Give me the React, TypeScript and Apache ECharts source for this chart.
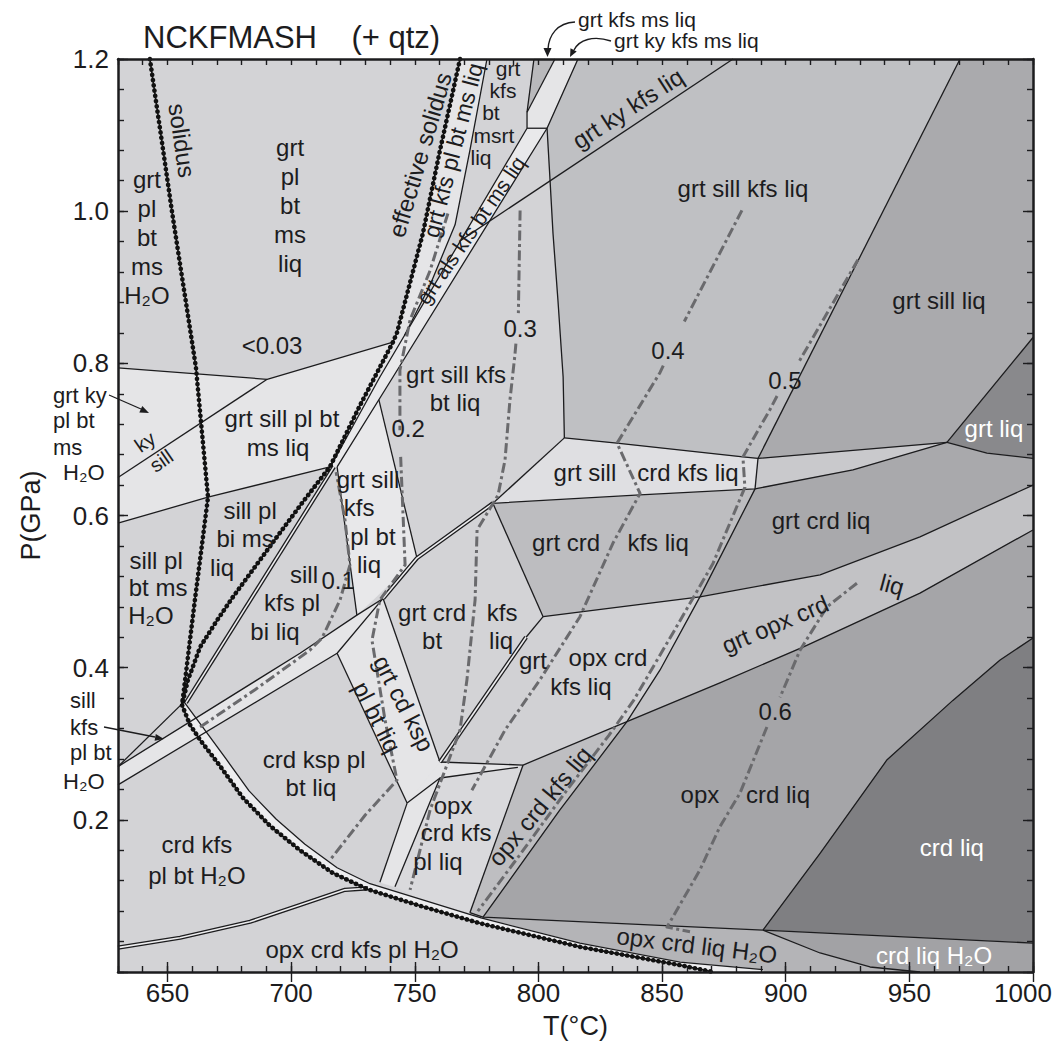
import React, { useEffect, useRef } from "react";
import * as echarts from "echarts";

type Pt = [number, number];

const FONT = '"Liberation Sans", Arial, Helvetica, sans-serif';
const INK = "#1c1c1e";

// ---------- axes ----------
const X_MIN = 630, X_MAX = 1000, Y_MIN = 0, Y_MAX = 1.2;
const X_TICK_LABELS = [650, 700, 750, 800, 850, 900, 950, 1000];
const Y_TICK_LABELS = [0.2, 0.4, 0.6, 0.8, 1.0, 1.2];
const Y_MAJOR = [0, 0.2, 0.4, 0.6, 0.8, 1.0, 1.2];

// ---------- main curves (T °C, P GPa) ----------
const SOLIDUS_UPPER: Pt[] = [[642.9, 1.2], [651.8, 1.0], [661.5, 0.795], [666.4, 0.624], [661.1, 0.489]];
const SOLIDUS_LOWER: Pt[] = [[655.9, 0.351], [659.1, 0.325], [663.2, 0.305], [671.2, 0.271], [680.5, 0.229], [691.5, 0.192], [703.6, 0.16], [716.9, 0.13], [730.7, 0.109], [752.1, 0.087], [776.4, 0.064], [816.8, 0.033], [857.3, 0.009], [870.6, 0]];
const EFF_SOLIDUS: Pt[] = [[768.3, 1.2], [760.2, 1.08], [753.3, 0.971], [742.8, 0.84], [741.2, 0.828], [727.9, 0.745], [715.7, 0.664], [704.8, 0.618], [694.3, 0.572], [676.5, 0.493], [669.6, 0.46], [663.2, 0.427], [658.3, 0.384], [655.9, 0.351]];
const SOLIDUS_BAND_TOP: Pt[] = [[656.7, 0.355], [661.5, 0.334], [673.7, 0.28], [683.0, 0.238], [693.9, 0.201], [705.6, 0.168], [718.6, 0.137], [731.9, 0.116], [752.9, 0.095], [776.8, 0.071], [816.8, 0.038], [857.3, 0.013], [890.8, 0.003]];

// ---------- phase fields ----------
const F_LIGHT_TOP: Pt[] = [[630, 0.794], [690.3, 0.779], [741.2, 0.828], [727.9, 0.745], [715.7, 0.664], [666.4, 0.624], [630, 0.59]];
const F_GKPBML: Pt[] = [[768.3, 1.2], [779.2, 1.2], [772.3, 1.08], [766.3, 0.982], [756.2, 0.903], [745.9, 0.837], [735.9, 0.782], [716.1, 0.665], [715.7, 0.664], [727.9, 0.745], [741.2, 0.828], [742.8, 0.84], [753.3, 0.971], [760.2, 1.08]];
const F_GKML: Pt[] = [[798.2, 1.2], [806.7, 1.2], [795.4, 1.13]];
const F_GKKML: Pt[] = [[806.7, 1.2], [816.0, 1.2], [803.5, 1.109], [795.4, 1.109], [795.4, 1.13]];
const F_ALS: Pt[] = [[795.4, 1.109], [803.5, 1.109], [741.2, 0.782], [718.6, 0.664], [716.1, 0.665], [735.9, 0.782]];
const F_GSKPBL: Pt[] = [[718.6, 0.664], [735.5, 0.752], [750.9, 0.544], [726.6, 0.469]];
const F_SILLCRD: Pt[] = [[630, 0.27], [703.6, 0.419], [726.6, 0.469], [737.2, 0.491], [718.6, 0.419], [630, 0.246]];
const F_GCKSP: Pt[] = [[718.6, 0.419], [737.2, 0.491], [760.2, 0.276], [746.9, 0.222]];
const F_OPXBAND: Pt[] = [[746.9, 0.222], [760.2, 0.276], [793.8, 0.272], [791.7, 0.269], [760.2, 0.255], [742.0, 0.112], [735.9, 0.118]];
const F_OCKPL: Pt[] = [[760.2, 0.255], [791.7, 0.269], [793.8, 0.272], [772.3, 0.078], [752.9, 0.095], [742.0, 0.112]];
const F_OCKL: Pt[] = [[793.8, 0.272], [835.8, 0.329], [808.7, 0.213], [777.6, 0.072], [772.3, 0.078]];
const F_GOCKL: Pt[] = [[801.9, 0.467], [865.3, 0.493], [849.2, 0.397], [835.8, 0.329], [793.8, 0.272], [760.2, 0.276]];
const F_GCKL: Pt[] = [[781.6, 0.616], [841.1, 0.627], [887.6, 0.635], [865.3, 0.493], [801.9, 0.467]];
const F_GSCKL: Pt[] = [[810.5, 0.702], [831.8, 0.695], [882.7, 0.677], [888.8, 0.675], [887.6, 0.635], [841.1, 0.627], [781.6, 0.616]];
const F_GSCL: Pt[] = [[888.8, 0.675], [965.2, 0.696], [927.2, 0.66], [887.6, 0.635]];
const F_GSKL: Pt[] = [[816.0, 1.2], [970.5, 1.2], [888.8, 0.675], [882.7, 0.677], [831.8, 0.695], [810.5, 0.702], [810.0, 0.782], [807.9, 0.883], [805.9, 0.971], [804.7, 1.041], [803.5, 1.109]];
const F_GSL: Pt[] = [[970.5, 1.2], [1000, 1.2], [1000, 0.834], [965.2, 0.696], [888.8, 0.675]];
const F_GL: Pt[] = [[965.2, 0.696], [1000, 0.834], [1000, 0.675], [981.4, 0.682]];
const F_GCL: Pt[] = [[887.6, 0.635], [927.2, 0.66], [965.2, 0.696], [981.4, 0.682], [1000, 0.675], [1000, 0.64], [954.3, 0.572], [913.9, 0.522], [865.3, 0.493]];
const F_GOCL: Pt[] = [[865.3, 0.493], [913.9, 0.522], [954.3, 0.572], [1000, 0.64], [1000, 0.581], [954.3, 0.498], [907.0, 0.427], [873.4, 0.38], [835.8, 0.329], [849.2, 0.397]];
const F_OCL: Pt[] = [[835.8, 0.329], [873.4, 0.38], [907.0, 0.427], [954.3, 0.498], [1000, 0.581], [1000, 0.439], [986.7, 0.41], [967.6, 0.357], [941.0, 0.279], [913.9, 0.156], [890.8, 0.055], [777.6, 0.072], [808.7, 0.213]];
const F_CL: Pt[] = [[1000, 0.439], [1000, 0.038], [890.8, 0.055], [913.9, 0.156], [941.0, 0.279], [967.6, 0.357], [986.7, 0.41]];
const F_CLH: Pt[] = [[890.8, 0.055], [1000, 0.038], [1000, 0], [954.3, 0], [934.1, 0.0066], [913.9, 0.025]];
const F_OCLH: Pt[] = [[772.3, 0.078], [777.6, 0.072], [890.8, 0.055], [913.9, 0.025], [934.1, 0.0066], [954.3, 0], [890.8, 0], [890.8, 0.003], [857.3, 0.013], [816.8, 0.038], [776.8, 0.071]];

// ---------- boundaries ----------
const L_SILL_TOP: Pt[] = [[630, 0.794], [690.3, 0.779], [741.2, 0.828]];
const L_KY_SILL: Pt[] = [[630, 0.65], [690.3, 0.779]];
const L_SILL_BOTTOM: Pt[] = [[630, 0.59], [666.4, 0.624], [715.7, 0.664]];
const L_B: Pt[] = [[779.2, 1.2], [772.3, 1.08], [766.3, 0.982], [756.2, 0.903], [745.9, 0.837]];
const L_TRI_LEFT: Pt[] = [[798.2, 1.2], [795.4, 1.13], [795.4, 1.109]];
const L_TRI_RIGHT: Pt[] = [[806.7, 1.2], [795.4, 1.13]];
const L_V: Pt[] = [[816.0, 1.2], [803.5, 1.109], [804.7, 1.041], [805.9, 0.971], [807.9, 0.883], [810.0, 0.782], [810.5, 0.702]];
const L_HORIZ: Pt[] = [[795.4, 1.109], [803.5, 1.109]];
const L_ALS_LEFT: Pt[] = [[795.4, 1.109], [735.9, 0.782], [716.1, 0.665]];
const L_ALS_RIGHT: Pt[] = [[803.5, 1.109], [741.2, 0.782], [718.6, 0.664]];
const L_ALS_TAIL: Pt[] = [[656.7, 0.355], [630, 0.27]];
const L_KY_SILL_HT: Pt[] = [[878.7, 1.2], [768.3, 0.961]];
const L_R1: Pt[] = [[970.5, 1.2], [888.8, 0.675]];
const L_R2: Pt[] = [[810.5, 0.702], [831.8, 0.695], [882.7, 0.677], [888.8, 0.675], [965.2, 0.696]];
const L_R4: Pt[] = [[781.6, 0.616], [841.1, 0.627], [887.6, 0.635], [927.2, 0.66], [965.2, 0.696]];
const L_KFS_SHORT: Pt[] = [[888.8, 0.675], [887.6, 0.635]];
const L_GL_UP: Pt[] = [[965.2, 0.696], [1000, 0.834]];
const L_GL_LOW: Pt[] = [[965.2, 0.696], [981.4, 0.682], [1000, 0.675]];
const L_CRD_TOP: Pt[] = [[810.5, 0.702], [781.6, 0.616]];
const L_SILLCRD_UP: Pt[] = [[737.2, 0.491], [726.6, 0.469], [703.6, 0.419], [630, 0.27]];
const L_SILLCRD_LOW: Pt[] = [[630, 0.246], [718.6, 0.419], [737.2, 0.491]];
const L_GSK_RIGHT: Pt[] = [[735.5, 0.752], [750.9, 0.544]];
const L_GSK_LEFT: Pt[] = [[718.6, 0.664], [726.6, 0.469]];
const L_GRTCRD: Pt[] = [[781.6, 0.616], [801.9, 0.467]];
const L_K: Pt[] = [[887.6, 0.635], [865.3, 0.493], [849.2, 0.397], [835.8, 0.329], [808.7, 0.213], [777.6, 0.072]];
const L_R5: Pt[] = [[801.9, 0.467], [865.3, 0.493], [913.9, 0.522], [954.3, 0.572], [1000, 0.64]];
const L_R6: Pt[] = [[793.8, 0.272], [835.8, 0.329], [873.4, 0.38], [907.0, 0.427], [954.3, 0.498], [1000, 0.581]];
const L_BT_TOP: Pt[] = [[801.9, 0.467], [795.0, 0.44]];
const L_GCKSP_R: Pt[] = [[737.2, 0.491], [760.2, 0.276]];
const L_GCKSP_L: Pt[] = [[718.6, 0.419], [746.9, 0.222]];
const L_OPX_TOP: Pt[] = [[760.2, 0.276], [793.8, 0.272]];
const L_OPX_WEDGE: Pt[] = [[746.9, 0.222], [760.2, 0.255], [791.7, 0.269]];
const L_OPX_BAND_L: Pt[] = [[746.9, 0.222], [735.9, 0.118]];
const L_OPX_BAND_R: Pt[] = [[760.2, 0.255], [742.0, 0.112]];
const L_OCKL_LEFT: Pt[] = [[793.8, 0.272], [772.3, 0.078]];
const L_R9: Pt[] = [[772.3, 0.078], [777.6, 0.072], [890.8, 0.055]];
const L_R7: Pt[] = [[1000, 0.439], [986.7, 0.41], [967.6, 0.357], [941.0, 0.279], [913.9, 0.156], [890.8, 0.055]];
const L_R8: Pt[] = [[890.8, 0.055], [1000, 0.038]];
const L_CLH_LOW: Pt[] = [[890.8, 0.055], [913.9, 0.025], [934.1, 0.0066], [954.3, 0]];

const D_CRD: Pt[] = [[781.6, 0.616], [750.9, 0.544], [737.2, 0.491]];
const D_ALS: Pt[] = [[717.3, 0.664], [657.5, 0.354]];
const D_BT: Pt[] = [[795.0, 0.44], [760.2, 0.276]];
const D_OPX_SUB: Pt[] = [[630, 0.032], [655.1, 0.045], [683.4, 0.066], [703.6, 0.088], [721.8, 0.108], [731.1, 0.11]];

// ---------- melt-fraction isopleths ----------
const ISO_01: Pt[] = [[663.2, 0.322], [685.4, 0.371], [707.6, 0.423], [712.5, 0.439], [719.8, 0.489], [723.8, 0.535], [721.8, 0.594], [718.2, 0.657]];
const ISO_02A: Pt[] = [[763.4, 0.997], [756.2, 0.922], [748.1, 0.857], [744.0, 0.791], [744.0, 0.712]];
const ISO_02B: Pt[] = [[744.3, 0.677], [746.1, 0.535], [735.9, 0.489], [732.7, 0.436], [738.0, 0.331], [742.8, 0.252], [729.9, 0.206], [715.7, 0.147]];
const ISO_03A: Pt[] = [[792.6, 1.001], [791.9, 0.866]];
const ISO_03B: Pt[] = [[790.9, 0.826], [790.5, 0.811], [788.5, 0.752], [786.5, 0.673], [783.7, 0.627], [775.2, 0.581], [774.4, 0.489], [771.1, 0.384], [768.3, 0.318], [762.2, 0.265], [756.2, 0.213], [748.1, 0.108]];
const ISO_04A: Pt[] = [[882.3, 1.001], [859.0, 0.855]];
const ISO_04B: Pt[] = [[850.5, 0.797], [849.2, 0.788], [831.8, 0.695], [841.1, 0.629], [830.2, 0.564], [816.8, 0.467], [800.6, 0.384], [786.5, 0.318], [773.1, 0.239]];
const ISO_05A: Pt[] = [[929.2, 0.936], [905.0, 0.8]];
const ISO_05B: Pt[] = [[896.5, 0.757], [893.6, 0.739], [882.7, 0.677], [883.5, 0.637], [870.6, 0.537], [855.0, 0.449], [838.5, 0.357], [828.5, 0.311], [811.5, 0.239], [792.5, 0.154], [775.5, 0.08]];
const ISO_06A: Pt[] = [[928.8, 0.511], [916.7, 0.48], [905.8, 0.423], [897.7, 0.361]];
const ISO_06B: Pt[] = [[892.4, 0.322], [881.5, 0.235], [873.4, 0.191], [865.3, 0.134], [852.0, 0.059], [861.3, 0.053]];

// ---------- labels: [T, P, text, rotation°, size, colour, align] ----------
type Lbl = [number, number, string, number?, number?, string?, string?];
const FIELD_LABELS: Lbl[] = [
  [641.7, 0.966, "grt\npl\nbt\nms\nH₂O"],
  [699.6, 1.007, "grt\npl\nbt\nms\nliq"],
  [655.9, 1.093, "solidus", -81.8],
  [752.1, 1.074, "effective solidus", 73.6],
  [765.5, 1.08, "grt kfs pl bt ms liq", 75.4, 23],
  [772.7, 0.975, "grt als kfs bt ms liq", 55.3, 21],
  [787.7, 1.188, "grt", 0, 21],
  [785.7, 1.159, "kfs", 0, 21],
  [780.8, 1.13, "bt", 0, 21],
  [782.0, 1.1, "msrt", 0, 21],
  [776.8, 1.071, "liq", 0, 21],
  [836.2, 1.135, "grt ky kfs liq", 32.8],
  [882.7, 1.03, "grt sill kfs liq"],
  [962.0, 0.883, "grt sill liq"],
  [692.3, 0.824, "<0.03"],
  [603.7, 0.758, "grt ky", 0, 22, INK, "left"],
  [603.7, 0.725, "pl bt", 0, 22, INK, "left"],
  [603.7, 0.69, "ms", 0, 22, INK, "left"],
  [607.8, 0.656, "H₂O", 0, 22, INK, "left"],
  [640.9, 0.697, "ky", 35, 20],
  [647.5, 0.672, "sill", 35, 20],
  [696.3, 0.728, "grt sill pl bt"],
  [694.7, 0.69, "ms liq"],
  [683.4, 0.607, "sill pl"],
  [681.4, 0.57, "bi ms"],
  [672.1, 0.532, "liq"],
  [645.4, 0.541, "sill pl"],
  [646.2, 0.505, "bt ms"],
  [643.3, 0.469, "H₂O"],
  [731.1, 0.647, "grt sill"],
  [727.5, 0.61, "kfs"],
  [733.1, 0.572, "pl bt"],
  [731.5, 0.535, "liq"],
  [705.2, 0.522, "sill"],
  [700.4, 0.485, "kfs pl"],
  [693.5, 0.447, "bi liq"],
  [766.7, 0.785, "grt sill kfs"],
  [766.3, 0.748, "bt liq"],
  [818.8, 0.657, "grt sill"],
  [860.5, 0.657, "crd kfs liq"],
  [811.2, 0.564, "grt crd"],
  [848.4, 0.564, "kfs liq"],
  [757.0, 0.473, "grt crd"],
  [757.0, 0.436, "bt"],
  [785.3, 0.473, "kfs"],
  [784.9, 0.436, "liq"],
  [797.8, 0.41, "grt"],
  [828.1, 0.413, "opx crd"],
  [817.2, 0.375, "kfs liq"],
  [914.3, 0.594, "grt crd liq"],
  [984.2, 0.715, "grt liq", 0, 24, "#ffffff"],
  [895.7, 0.457, "grt opx crd", 23],
  [943.0, 0.509, "liq", -15],
  [709.3, 0.279, "crd ksp pl"],
  [708.0, 0.242, "bt liq"],
  [745.6, 0.353, "grt cd ksp", -62.7],
  [734.7, 0.335, "pl bt liq", -62.7],
  [661.9, 0.167, "crd kfs"],
  [661.9, 0.127, "pl bt H₂O"],
  [610.6, 0.357, "sill", 0, 22, INK, "left"],
  [610.6, 0.322, "kfs", 0, 22, INK, "left"],
  [610.6, 0.288, "pl bt", 0, 22, INK, "left"],
  [607.8, 0.25, "H₂O", 0, 22, INK, "left"],
  [728.7, 0.029, "opx crd kfs pl H₂O"],
  [765.5, 0.219, "opx"],
  [766.7, 0.183, "crd kfs"],
  [759.4, 0.145, "pl liq"],
  [800.6, 0.218, "opx crd kfs liq", 50.3],
  [865.3, 0.233, "opx"],
  [896.9, 0.233, "crd liq"],
  [864.1, 0.035, "opx crd liq H₂O", -7],
  [967.2, 0.164, "crd liq", 0, 24, "#ffffff"],
  [960.0, 0.022, "crd liq H₂O", 0, 24, "#ffffff"],
];
const ISO_LABELS: Lbl[] = [
  [719.0, 0.515, "0.1"],
  [747.3, 0.714, "0.2"],
  [792.6, 0.846, "0.3"],
  [852.4, 0.817, "0.4"],
  [899.7, 0.778, "0.5"],
  [895.7, 0.342, "0.6"],
];

const TITLE = "NCKFMASH    (+ qtz)";
const NOTE_A = "grt kfs ms liq";
const NOTE_B = "grt ky kfs ms liq";

// ---------- styling ----------
const BASE = "#d3d3d6";
const LIGHT = "#e5e5e7";
const WHITE = "#ededef";

const FIELDS: { pts: Pt[]; color: string }[] = [
  { pts: F_LIGHT_TOP, color: LIGHT },
  { pts: F_GKPBML, color: LIGHT },
  { pts: F_GKML, color: "#b9b9bc" },
  { pts: F_GKKML, color: LIGHT },
  { pts: F_ALS, color: "#e9e9eb" },
  { pts: F_GSKPBL, color: "#e8e8ea" },
  { pts: F_SILLCRD, color: LIGHT },
  { pts: F_GCKSP, color: LIGHT },
  { pts: F_OPXBAND, color: LIGHT },
  { pts: F_OCKPL, color: "#d9d9dc" },
  { pts: F_OCKL, color: "#bebec1" },
  { pts: F_GOCKL, color: "#d1d1d4" },
  { pts: F_GCKL, color: "#bdbdc0" },
  { pts: F_GSCKL, color: "#dfdfe2" },
  { pts: F_GSCL, color: "#c9c9cc" },
  { pts: F_GSKL, color: "#bfc0c3" },
  { pts: F_GSL, color: "#aaaaad" },
  { pts: F_GL, color: "#89898c" },
  { pts: F_GCL, color: "#a9a9ac" },
  { pts: F_GOCL, color: "#c2c2c5" },
  { pts: F_OCL, color: "#a5a5a8" },
  { pts: F_CL, color: "#7f7f82" },
  { pts: F_CLH, color: "#a2a2a5" },
  { pts: F_OCLH, color: "#b4b4b7" },
  { pts: [...SOLIDUS_BAND_TOP, [890.8, 0], ...SOLIDUS_LOWER.slice().reverse()], color: WHITE },
];

const THIN_LINES: Pt[][] = [
  L_SILL_TOP, L_KY_SILL, L_SILL_BOTTOM, L_B, L_TRI_LEFT, L_TRI_RIGHT, L_V, L_HORIZ,
  L_ALS_LEFT, L_ALS_RIGHT, L_ALS_TAIL, L_KY_SILL_HT, L_R1, L_R2, L_R4, L_KFS_SHORT,
  L_GL_UP, L_GL_LOW, L_CRD_TOP, L_SILLCRD_UP, L_SILLCRD_LOW, L_GSK_RIGHT, L_GSK_LEFT,
  L_GRTCRD, L_K, L_R5, L_R6, L_BT_TOP, L_GCKSP_R, L_GCKSP_L, L_OPX_TOP, L_OPX_WEDGE,
  L_OPX_BAND_L, L_OPX_BAND_R, L_OCKL_LEFT, L_R9, L_R7, L_R8, L_CLH_LOW, SOLIDUS_BAND_TOP,
];
const DOUBLE_LINES: Pt[][] = [D_CRD, D_ALS, D_BT, D_OPX_SUB];
const DOTTED_LINES: Pt[][] = [[...SOLIDUS_UPPER, ...SOLIDUS_LOWER], EFF_SOLIDUS];
const ISO_LINES: Pt[][] = [ISO_01, ISO_02A, ISO_02B, ISO_03A, ISO_03B, ISO_04A, ISO_04B, ISO_05A, ISO_05B, ISO_06A, ISO_06B];

function App() {
  const ref = useRef<HTMLDivElement>(null);

  useEffect(() => {
    document.body.style.margin = "0";
    const chart = echarts.init(ref.current as HTMLDivElement, null, { renderer: "svg" });

    const toPts = (api: any, pts: Pt[]) => pts.map((p) => api.coord(p));

    const textEl = (api: any, l: Lbl) => {
      const [t, p, text, rot = 0, size = 24, color = INK, align = "center"] = l;
      const c = api.coord([t, p]);
      return {
        type: "text",
        x: c[0],
        y: c[1],
        rotation: (rot * Math.PI) / 180,
        style: {
          text,
          fill: color,
          font: `${size}px ${FONT}`,
          align,
          verticalAlign: "middle",
          lineHeight: Math.round(size * 1.2),
        },
      };
    };

    const axisLine = { show: true, onZero: false, lineStyle: { color: INK, width: 2.5 } };
    const minorTick = { show: true, inside: true, length: 6, lineStyle: { color: INK, width: 1.4 } };

    const xBase = { type: "value", min: X_MIN, max: X_MAX, z: 10, splitLine: { show: false } };
    const yBase = { type: "value", min: Y_MIN, max: Y_MAX, z: 10, splitLine: { show: false } };
    const tickFont = { fontSize: 26, color: INK, fontFamily: FONT };

    const option: any = {
      animation: false,
      backgroundColor: "#ffffff",
      grid: {
        left: 118, top: 59, width: 915, height: 913,
        show: true, backgroundColor: BASE, borderWidth: 0,
        containLabel: false, outerBoundsMode: "none",
      },
      xAxis: [
        {
          ...xBase, position: "bottom", interval: 10, axisLine, axisTick: minorTick,
          axisLabel: {
            formatter: (v: number) => {
              const r = Math.round(v);
              if (!X_TICK_LABELS.includes(r)) return "";
              return r === X_MAX ? `{last|${r}}` : `{n|${r}}`;
            },
            rich: {
              n: { ...tickFont },
              last: { ...tickFont, padding: [0, 20, 0, 0] },
            },
            ...tickFont, margin: 8,
          },
          name: "T(°C)", nameLocation: "middle", nameGap: 40,
          nameTextStyle: { fontSize: 27, color: INK, fontFamily: FONT },
        },
        { ...xBase, position: "top", interval: 10, axisLine, axisTick: minorTick, axisLabel: { show: false } },
        {
          ...xBase, position: "bottom", axisLine: { show: false },
          axisTick: { show: true, inside: true, length: 10, customValues: X_TICK_LABELS, lineStyle: { color: INK, width: 1.4 } },
          axisLabel: { show: false },
        },
        {
          ...xBase, position: "top", axisLine: { show: false },
          axisTick: { show: true, inside: true, length: 10, customValues: X_TICK_LABELS, lineStyle: { color: INK, width: 1.4 } },
          axisLabel: { show: false },
        },
      ],
      yAxis: [
        {
          ...yBase, position: "left", interval: 0.04, axisLine, axisTick: minorTick,
          axisLabel: {
            formatter: (v: number) => (Y_TICK_LABELS.some((t) => Math.abs(t - v) < 1e-6) ? v.toFixed(1) : ""),
            ...tickFont, margin: 9,
          },
          name: "P(GPa)", nameLocation: "middle", nameGap: 74,
          nameTextStyle: { fontSize: 27, color: INK, fontFamily: FONT },
        },
        { ...yBase, position: "right", interval: 0.04, axisLine, axisTick: minorTick, axisLabel: { show: false } },
        {
          ...yBase, position: "left", axisLine: { show: false },
          axisTick: { show: true, inside: true, length: 10, customValues: Y_MAJOR, lineStyle: { color: INK, width: 1.4 } },
          axisLabel: { show: false },
        },
        {
          ...yBase, position: "right", axisLine: { show: false },
          axisTick: { show: true, inside: true, length: 10, customValues: Y_MAJOR, lineStyle: { color: INK, width: 1.4 } },
          axisLabel: { show: false },
        },
      ],
      series: [
        {
          type: "custom", name: "fields", coordinateSystem: "cartesian2d", silent: true, z: 1,
          data: [[700, 0.5]],
          renderItem: (_p: any, api: any) => ({
            type: "group",
            children: FIELDS.map((f) => ({
              type: "polygon",
              shape: { points: toPts(api, f.pts) },
              style: { fill: f.color, stroke: f.color, lineWidth: 0.6 },
            })),
          }),
        },
        {
          type: "custom", name: "boundaries", coordinateSystem: "cartesian2d", silent: true, z: 2,
          data: [[700, 0.5]],
          renderItem: (_p: any, api: any) => ({
            type: "group",
            children: [
              ...THIN_LINES.map((l) => ({
                type: "polyline", shape: { points: toPts(api, l) },
                style: { stroke: INK, lineWidth: 1.3, fill: "none", lineJoin: "round" },
              })),
              ...DOUBLE_LINES.map((l) => ({
                type: "polyline", shape: { points: toPts(api, l) },
                style: { stroke: INK, lineWidth: 4.2, fill: "none", lineJoin: "round" },
              })),
              ...DOUBLE_LINES.map((l) => ({
                type: "polyline", shape: { points: toPts(api, l) },
                style: { stroke: WHITE, lineWidth: 1.6, fill: "none", lineJoin: "round" },
              })),
            ],
          }),
        },
        {
          type: "custom", name: "isopleths", coordinateSystem: "cartesian2d", silent: true, z: 3,
          data: [[700, 0.5]],
          renderItem: (_p: any, api: any) => ({
            type: "group",
            children: ISO_LINES.map((l) => ({
              type: "polyline", shape: { points: toPts(api, l) },
              style: { stroke: "#6a6a6d", lineWidth: 3, fill: "none", lineDash: [10, 3.5, 3, 3.5], lineJoin: "round" },
            })),
          }),
        },
        {
          type: "custom", name: "solidi", coordinateSystem: "cartesian2d", silent: true, z: 4,
          data: [[700, 0.5]],
          renderItem: (_p: any, api: any) => ({
            type: "group",
            children: [
              ...DOTTED_LINES.map((l) => ({
                type: "polyline", shape: { points: toPts(api, l) },
                style: { stroke: "#111", lineWidth: 1.6, fill: "none", lineJoin: "round" },
              })),
              ...DOTTED_LINES.map((l) => ({
                type: "polyline", shape: { points: toPts(api, l) },
                style: { stroke: "#111", lineWidth: 4.6, fill: "none", lineDash: [0.1, 5.2], lineCap: "round" },
              })),
            ],
          }),
        },
        {
          type: "custom", name: "labels", coordinateSystem: "cartesian2d", silent: true, z: 5, clip: false,
          data: [[700, 0.5]],
          renderItem: (_p: any, api: any) => ({
            type: "group",
            children: [...FIELD_LABELS, ...ISO_LABELS].map((l) => textEl(api, l)),
          }),
        },
      ],
      graphic: {
        elements: [
          { type: "text", x: 143, y: 37, z: 100, style: { text: TITLE, font: `31px ${FONT}`, fill: INK, verticalAlign: "middle" } },
          { type: "text", x: 578, y: 19, z: 100, style: { text: NOTE_A, font: `21px ${FONT}`, fill: INK, verticalAlign: "middle" } },
          { type: "text", x: 614, y: 40, z: 100, style: { text: NOTE_B, font: `21px ${FONT}`, fill: INK, verticalAlign: "middle" } },
          { type: "bezierCurve", z: 100, shape: { x1: 575, y1: 22, cpx1: 557, cpy1: 23, cpx2: 549, cpy2: 35, x2: 548, y2: 49 }, style: { stroke: INK, lineWidth: 1.4, fill: "none" } },
          { type: "polygon", z: 100, shape: { points: [[547.5, 57], [543.5, 48], [551.5, 48]] }, style: { fill: INK } },
          { type: "bezierCurve", z: 100, shape: { x1: 611, y1: 41, cpx1: 593, cpy1: 35, cpx2: 579, cpy2: 40, x2: 574, y2: 50 }, style: { stroke: INK, lineWidth: 1.4, fill: "none" } },
          { type: "polygon", z: 100, shape: { points: [[570, 57], [576.7, 51.5], [570.5, 48.3]] }, style: { fill: INK } },
          { type: "line", z: 100, shape: { x1: 109, y1: 395, x2: 141, y2: 409 }, style: { stroke: INK, lineWidth: 1.3 } },
          { type: "polygon", z: 100, shape: { points: [[149, 413], [139.3, 412.4], [142.3, 406]] }, style: { fill: INK } },
          { type: "line", z: 100, shape: { x1: 104, y1: 727, x2: 155, y2: 737 }, style: { stroke: INK, lineWidth: 1.3 } },
          { type: "polygon", z: 100, shape: { points: [[164, 739], [154.6, 740.8], [155.8, 734]] }, style: { fill: INK } },
        ],
      },
    };

    chart.setOption(option);
    return () => chart.dispose();
  }, []);

  return <div ref={ref} style={{ width: 1060, height: 1043 }} />;
}

export default App;
